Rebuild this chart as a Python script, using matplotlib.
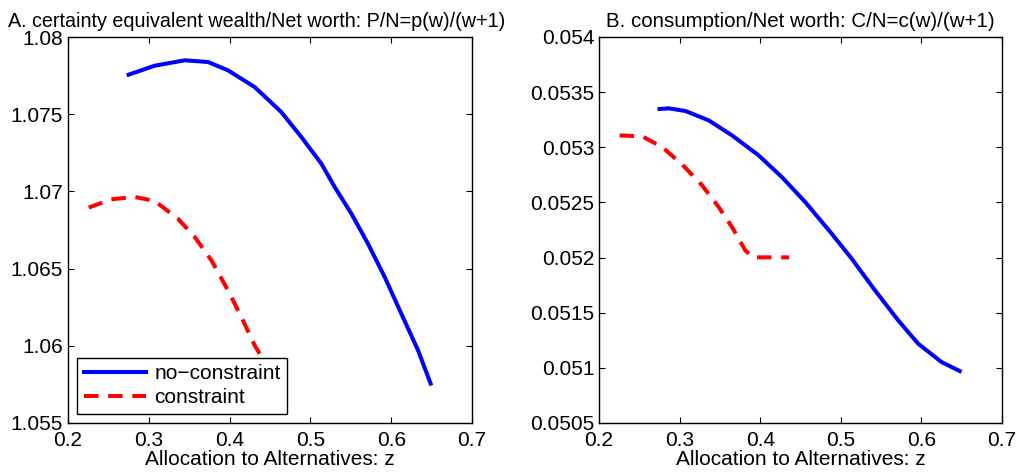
import numpy as np
import matplotlib.pyplot as plt

plt.rcParams['font.family'] = ['Liberation Sans', 'DejaVu Sans']

# panel A: certainty equivalent wealth / net worth
za_nc = [0.275, 0.3073, 0.3444, 0.3733, 0.398, 0.431, 0.464, 0.4888, 0.5135, 0.530,
	0.5507, 0.5713, 0.5919, 0.6125, 0.6332, 0.6488]
pa_nc = [1.07756, 1.07814, 1.07849, 1.07838, 1.07784, 1.07676, 1.07514, 1.07352, 1.0718, 1.07029,
	1.06856, 1.06661, 1.06446, 1.06208, 1.05971, 1.05755]
za_c = [0.2256, 0.2536, 0.2825, 0.3073, 0.3361, 0.3568, 0.3774, 0.398, 0.4145, 0.431, 0.4372]
pa_c = [1.06895, 1.06949, 1.06964, 1.06938, 1.06823, 1.06705, 1.06554, 1.06359, 1.06187, 1.06003, 1.05949]

# panel B: consumption / net worth
zb_nc = [0.2751, 0.2866, 0.3073, 0.3361, 0.365, 0.398, 0.4269, 0.4558, 0.4888, 0.5135,
	0.5424, 0.5713, 0.596, 0.6249, 0.6476]
cb_nc = [0.053347, 0.053353, 0.053329, 0.053244, 0.053108, 0.052927, 0.052730, 0.052504, 0.052216, 0.051990,
	0.051703, 0.051430, 0.051219, 0.051053, 0.050971]
zb_c = [0.2256, 0.2536, 0.2784, 0.3031, 0.3279, 0.3485, 0.365, 0.3815, 0.3906, 0.436]
cb_c = [0.053108, 0.053099, 0.053002, 0.052845, 0.052655, 0.052458, 0.052277, 0.052065, 0.052002, 0.052002]

fig = plt.figure(figsize=(10.18, 4.74), dpi=100)
ax1 = fig.add_axes([68/1018, 1-423/474, 404/1018, 386/474])
ax2 = fig.add_axes([599/1018, 1-423/474, 403/1018, 386/474])

lw = 2.9
dash = (0, (3.6, 2.4))
ax1.plot(za_nc, pa_nc, color='#0000ff', lw=lw, solid_joinstyle='round', label='no\u2212constraint')
ax1.plot(za_c, pa_c, color='#ff0000', lw=lw, ls=dash, dash_joinstyle='round', label='constraint')
ax1.set_xlim(0.2, 0.7)
ax1.set_ylim(1.055, 1.08)
ax1.set_yticks([1.055, 1.06, 1.065, 1.07, 1.075, 1.08])
ax1.set_yticklabels(['1.055', '1.06', '1.065', '1.07', '1.075', '1.08'])
ax1.set_title('A. certainty equivalent wealth/Net worth: P/N=p(w)/(w+1)', fontsize=14.2, pad=7, x=0.467)
leg = ax1.legend(loc='lower left', fontsize=15, fancybox=False, edgecolor='black',
	framealpha=1, handlelength=3.0, handletextpad=0.4, borderaxespad=0.45,
	borderpad=0.3, labelspacing=0.25)
leg.get_frame().set_linewidth(1.0)

ax2.plot(zb_nc, cb_nc, color='#0000ff', lw=lw, solid_joinstyle='round')
ax2.plot(zb_c, cb_c, color='#ff0000', lw=lw, ls=dash, dash_joinstyle='round')
ax2.set_xlim(0.2, 0.7)
ax2.set_ylim(0.0505, 0.054)
ax2.set_yticks([0.0505, 0.051, 0.0515, 0.052, 0.0525, 0.053, 0.0535, 0.054])
ax2.set_yticklabels(['0.0505', '0.051', '0.0515', '0.052', '0.0525', '0.053', '0.0535', '0.054'])
ax2.set_title('B. consumption/Net worth: C/N=c(w)/(w+1)', fontsize=14.8, pad=7)

for ax in (ax1, ax2):
	ax.set_xticks([0.2, 0.3, 0.4, 0.5, 0.6, 0.7])
	ax.set_xticklabels(['0.2', '0.3', '0.4', '0.5', '0.6', '0.7'])
	ax.set_xlabel('Allocation to Alternatives: z', fontsize=15, labelpad=0)
	ax.tick_params(direction='in', top=True, right=True, length=4, labelsize=15, width=0.8)
	ax.tick_params(axis='x', pad=6)
	for s in ax.spines.values():
		s.set_linewidth(1.0)

plt.savefig('out.png', dpi=100)
